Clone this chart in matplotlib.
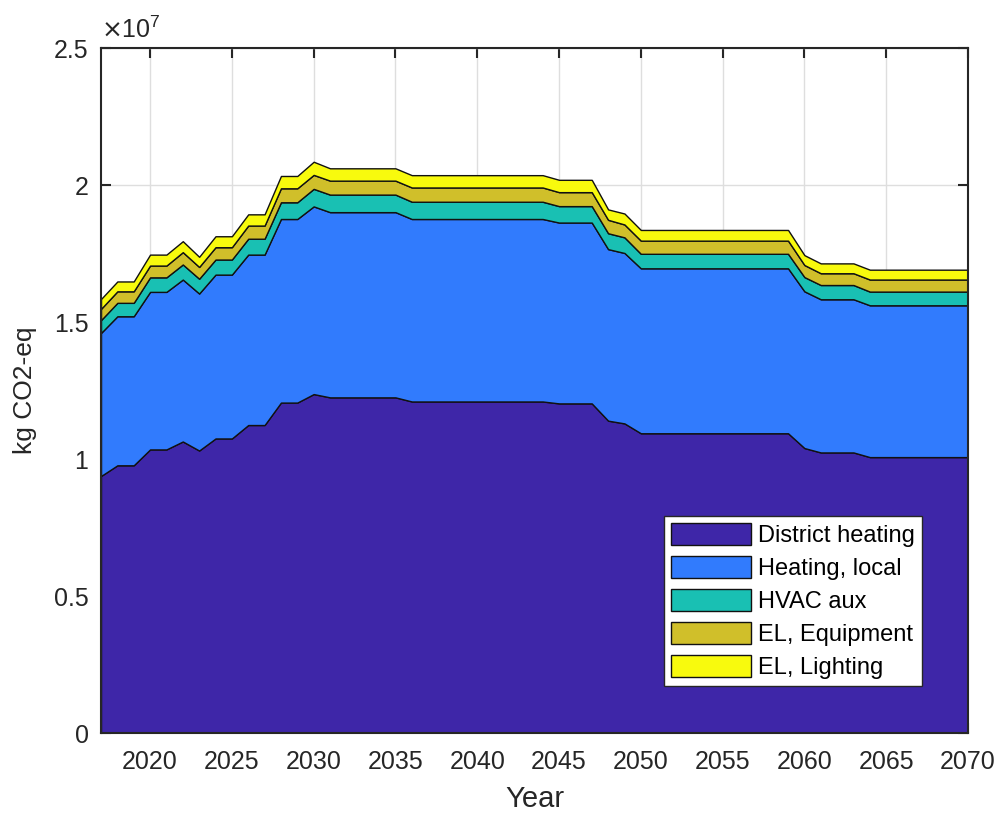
import numpy as np
import matplotlib
matplotlib.use("Agg")
from matplotlib import pyplot as plt
from matplotlib.ticker import FuncFormatter

plt.rcParams['font.family'] = ['Liberation Sans', 'DejaVu Sans']

years = list(range(2017, 2071))

# values in units of 1e7 kg CO2-eq, read per year
district_heating = ([0.938, 0.977, 0.977, 1.035, 1.035, 1.064, 1.031, 1.075, 1.075,
                     1.124, 1.124, 1.206, 1.206, 1.237]
                    + [1.225] * 5 + [1.210] * 9 + [1.203] * 3 + [1.140, 1.130]
                    + [1.094] * 10 + [1.040] + [1.024] * 3 + [1.007] * 7)
heating_local = ([0.522, 0.544, 0.544, 0.575, 0.575, 0.591, 0.573, 0.598, 0.598,
                  0.622, 0.622, 0.670, 0.670, 0.685]
                 + [0.676] * 5 + [0.666] * 9 + [0.660] * 3 + [0.626, 0.622]
                 + [0.602] * 10 + [0.572] + [0.559] * 3 + [0.554] * 7)
hvac_aux = ([0.047, 0.049, 0.049, 0.053, 0.053, 0.055, 0.054, 0.055, 0.055,
             0.058, 0.058, 0.061, 0.061, 0.064]
            + [0.064] * 5 + [0.063] * 9 + [0.060] * 3 + [0.058, 0.057]
            + [0.053] * 10 + [0.052] + [0.052] * 3 + [0.050] * 7)
el_equipment = ([0.041, 0.042, 0.042, 0.043, 0.043, 0.045, 0.043, 0.045, 0.045,
                 0.048, 0.048, 0.051, 0.051, 0.051]
                + [0.051] * 5 + [0.052] * 9 + [0.051] * 3 + [0.049, 0.047]
                + [0.048] * 10 + [0.044] + [0.043] * 3 + [0.044] * 7)
el_lighting = ([0.036, 0.036, 0.036, 0.040, 0.040, 0.040, 0.037, 0.040, 0.040,
                0.041, 0.041, 0.045, 0.045, 0.048]
               + [0.045] * 5 + [0.045] * 9 + [0.045] * 3 + [0.038, 0.040]
               + [0.039] * 10 + [0.036] + [0.036] * 3 + [0.036] * 7)

labels = ['District heating', 'Heating, local', 'HVAC aux', 'EL, Equipment', 'EL, Lighting']
colors = ['#3e26a8', '#317bfd', '#19c0b3', '#d0bf2a', '#f8fa0d']

series = np.array([district_heating, heating_local, hvac_aux, el_equipment, el_lighting]) * 1e7

fig = plt.figure(figsize=(10, 8.14), dpi=100)
ax = fig.add_axes([0.101, 0.0995, 0.867, 0.8415])

ax.stackplot(years, series, labels=labels, colors=colors,
             edgecolor='#111111', linewidth=1.0, zorder=2)

ax.set_xlim(2017, 2070)
ax.set_ylim(0, 2.5e7)
ax.set_xticks(range(2020, 2071, 5))
ax.set_yticks(np.arange(0, 2.51e7, 0.5e7))
ax.yaxis.set_major_formatter(FuncFormatter(lambda v, pos: '%g' % (v / 1e7)))
ax.text(0.0, 1.008, r'$\times\mathregular{10^{7}}$', transform=ax.transAxes,
        fontsize=18, color='#262626', ha='left', va='bottom')

ax.grid(True, color='#dedede', linewidth=1.0, zorder=0)
ax.set_axisbelow(True)
ax.tick_params(direction='in', length=7, width=1.5, top=True, right=True,
               labelsize=18, colors='#262626')
ax.tick_params(axis='x', pad=12)
ax.tick_params(axis='y', pad=9)
for s in ax.spines.values():
    s.set_linewidth(1.5)
    s.set_color('#262626')
    s.set_zorder(5)

ax.set_xlabel('Year', fontsize=21, color='#262626', labelpad=8)
ax.set_ylabel('kg CO2-eq', fontsize=19, color='#262626', labelpad=12)

leg = ax.legend(loc='lower right', bbox_to_anchor=(0.947, 0.0686), borderaxespad=0,
                fontsize=17, fancybox=False, framealpha=1, edgecolor='#262626',
                handlelength=3.4, handleheight=1.05, labelspacing=0.38,
                handletextpad=0.3, borderpad=0.3)
leg.get_frame().set_linewidth(1.0)
for p in leg.get_patches():
    p.set_edgecolor('#111111')
    p.set_linewidth(1.0)

fig.savefig('out.png', dpi=100)
